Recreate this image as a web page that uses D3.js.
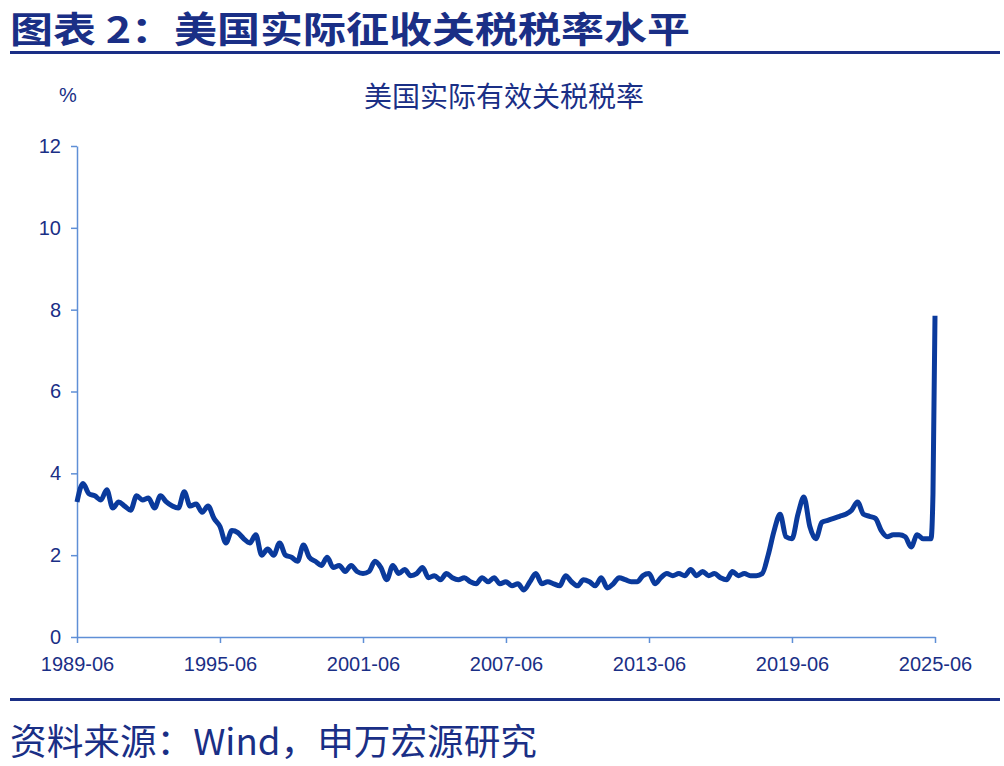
<!DOCTYPE html><html><head><meta charset="utf-8">
<script src="https://cdn.jsdelivr.net/npm/d3@7"></script>
<style>body{margin:0;background:#fff}svg{display:block}</style></head><body>
<script>
const startDate="1989-06";
const quarterlyValues=[
3.3,3.75,3.5,
3.45,3.35,3.6,3.15,
3.3,3.2,3.1,3.45,
3.35,3.4,3.15,3.45,
3.3,3.2,3.15,3.55,
3.2,3.25,3.05,3.2,
2.9,2.7,2.3,2.6,
2.55,2.4,2.3,2.5,
2.0,2.15,2.0,2.3,
2.0,1.95,1.85,2.25,
1.95,1.85,1.75,1.95,
1.7,1.75,1.6,1.75,
1.6,1.55,1.6,1.85,
1.7,1.4,1.75,1.55,
1.65,1.5,1.55,1.7,
1.45,1.5,1.4,1.55,
1.45,1.4,1.45,1.35,
1.3,1.45,1.35,1.45,
1.3,1.35,1.25,1.3,
1.15,1.35,1.55,1.3,
1.35,1.3,1.25,1.5,
1.35,1.25,1.4,1.35,
1.25,1.45,1.2,1.3,
1.45,1.4,1.35,1.35,
1.5,1.55,1.3,1.45,
1.55,1.5,1.55,1.5,
1.65,1.5,1.6,1.5,
1.55,1.45,1.4,1.6,
1.5,1.55,1.5,1.5,
1.55,2.0,2.6,3.0,
2.45,2.4,3.0,3.42,
2.7,2.4,2.8,2.85,
2.9,2.95,3.0,3.1,
3.3,3.0,2.95,2.9,
2.6,2.45,2.5,2.5,
2.45,2.2,2.5,2.4];
const tailDates=["2025-04","2025-05","2025-06"];
const tailValues=[2.4,3.5,7.85];
const xTickLabels=["1989-06","1995-06","2001-06","2007-06","2013-06","2019-06","2025-06"];
const yTicks=[0,2,4,6,8,10,12];

const parse=d3.timeParse("%Y-%m");
const s=parse(startDate);
const data=quarterlyValues.map((v,i)=>({d:d3.timeMonth.offset(s,3*i),v}))
  .concat(tailDates.map((t,i)=>({d:parse(t),v:tailValues[i]})));

const W=1004,H=766;
const svg=d3.select("body").append("svg").attr("width",W).attr("height",H);
const font="'Noto Sans CJK SC','Liberation Sans',Arial,sans-serif";
const latin="'Liberation Sans',Arial,sans-serif";
const navy="#1a2f86";
svg.append("text").attr("x",10).attr("y",43).attr("font-family",font).attr("font-weight","bold")
 .attr("font-size",36).attr("fill",navy).attr("textLength",680).attr("lengthAdjust","spacingAndGlyphs")
 .text("图表 2：美国实际征收关税税率水平");
svg.append("rect").attr("x",10).attr("y",51).attr("width",990).attr("height",3).attr("fill",navy);
svg.append("rect").attr("x",10).attr("y",698).attr("width",990).attr("height",3).attr("fill",navy);
svg.append("text").attr("x",10).attr("y",755).attr("font-family",font).attr("font-size",36)
 .attr("fill",navy).attr("textLength",527).attr("lengthAdjust","spacingAndGlyphs").text("资料来源：Wind，申万宏源研究");
svg.append("text").attr("x",504).attr("y",107).attr("text-anchor","middle").attr("font-family",font)
 .attr("font-size",28).attr("fill",navy).text("美国实际有效关税税率");
svg.append("text").attr("x",68).attr("y",102).attr("text-anchor","middle").attr("font-family",latin)
 .attr("font-size",20).attr("fill",navy).text("%");

const x=d3.scaleTime().domain([parse("1989-06"),parse("2025-06")]).range([77,935]);
const y=d3.scaleLinear().domain([0,12]).range([637,146]);
const axisColor="#5f8fd6";
const gx=svg.append("g").attr("transform","translate(0,637)")
 .call(d3.axisBottom(x).tickValues(xTickLabels.map(parse)).tickFormat(d3.timeFormat("%Y-%m")).tickSize(6).tickSizeOuter(0));
const gy=svg.append("g").attr("transform","translate(77,0)")
 .call(d3.axisLeft(y).tickValues(yTicks).tickSize(6).tickSizeOuter(0));
[gx,gy].forEach(g=>{g.selectAll("path,line").attr("stroke",axisColor).attr("stroke-width",1.5);
 g.selectAll("text").attr("fill",navy).attr("font-size",20).attr("font-family",latin);});
gx.selectAll("text").attr("dy","1.25em");
gy.selectAll("text").attr("dx","-0.35em");

svg.append("path").datum(data).attr("fill","none").attr("stroke","#0a3a9c").attr("stroke-width",5)
 .attr("stroke-linejoin","round").attr("d",d3.line().x(d=>x(d.d)).y(d=>y(d.v)).curve(d3.curveMonotoneX));
</script></body></html>
